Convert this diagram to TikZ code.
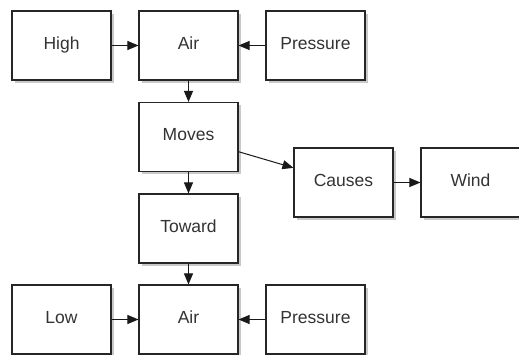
\documentclass[tikz,border=0pt]{standalone}
\usepackage{fontspec}
\setmainfont{Liberation Sans}
\usetikzlibrary{arrows.meta,shadows}
\tikzset{
  box/.style={draw=black!85, line width=1.1pt, fill=white, minimum width=99pt, minimum height=69pt,
    inner sep=0pt, font=\fontsize{17.5}{19}\selectfont, text=black!80,
    drop shadow={shadow xshift=2.5pt, shadow yshift=-2.5pt, opacity=0.35, fill=black!60}},
  conn/.style={line width=1pt, draw=black!90, -{Triangle[length=11pt,width=9pt]}}
}
\newcommand{\lbl}[1]{\raisebox{5pt}{#1}}
\begin{document}
\begin{tikzpicture}[x=1pt,y=-1pt]
\useasboundingbox[fill=white] (0,0) rectangle (519,354);
\begin{scope}
\clip (0,0) rectangle (519,354);
\node[box] (high) at (61.5,45.5) {\lbl{High}};
\node[box] (air1) at (188.5,45.5) {\lbl{Air}};
\node[box] (pres1) at (315.5,45.5) {\lbl{Pressure}};
\node[box] (moves) at (188.5,137) {\lbl{Moves}};
\node[box] (causes) at (343.5,182.5) {\lbl{Causes}};
\node[box] (wind) at (470.5,182.5) {\lbl{Wind}};
\node[box] (toward) at (188.5,228.5) {\lbl{Toward}};
\node[box] (low) at (61.5,319.5) {\lbl{Low}};
\node[box] (air2) at (188.5,319.5) {\lbl{Air}};
\node[box] (pres2) at (315.5,319.5) {\lbl{Pressure}};
\draw[conn] (high) -- (air1);
\draw[conn] (pres1) -- (air1);
\draw[conn] (air1) -- (moves);
\draw[conn] (moves) -- (causes);
\draw[conn] (causes) -- (wind);
\draw[conn] (moves) -- (toward);
\draw[conn] (toward) -- (air2);
\draw[conn] (low) -- (air2);
\draw[conn] (pres2) -- (air2);
\end{scope}
\end{tikzpicture}
\end{document}
